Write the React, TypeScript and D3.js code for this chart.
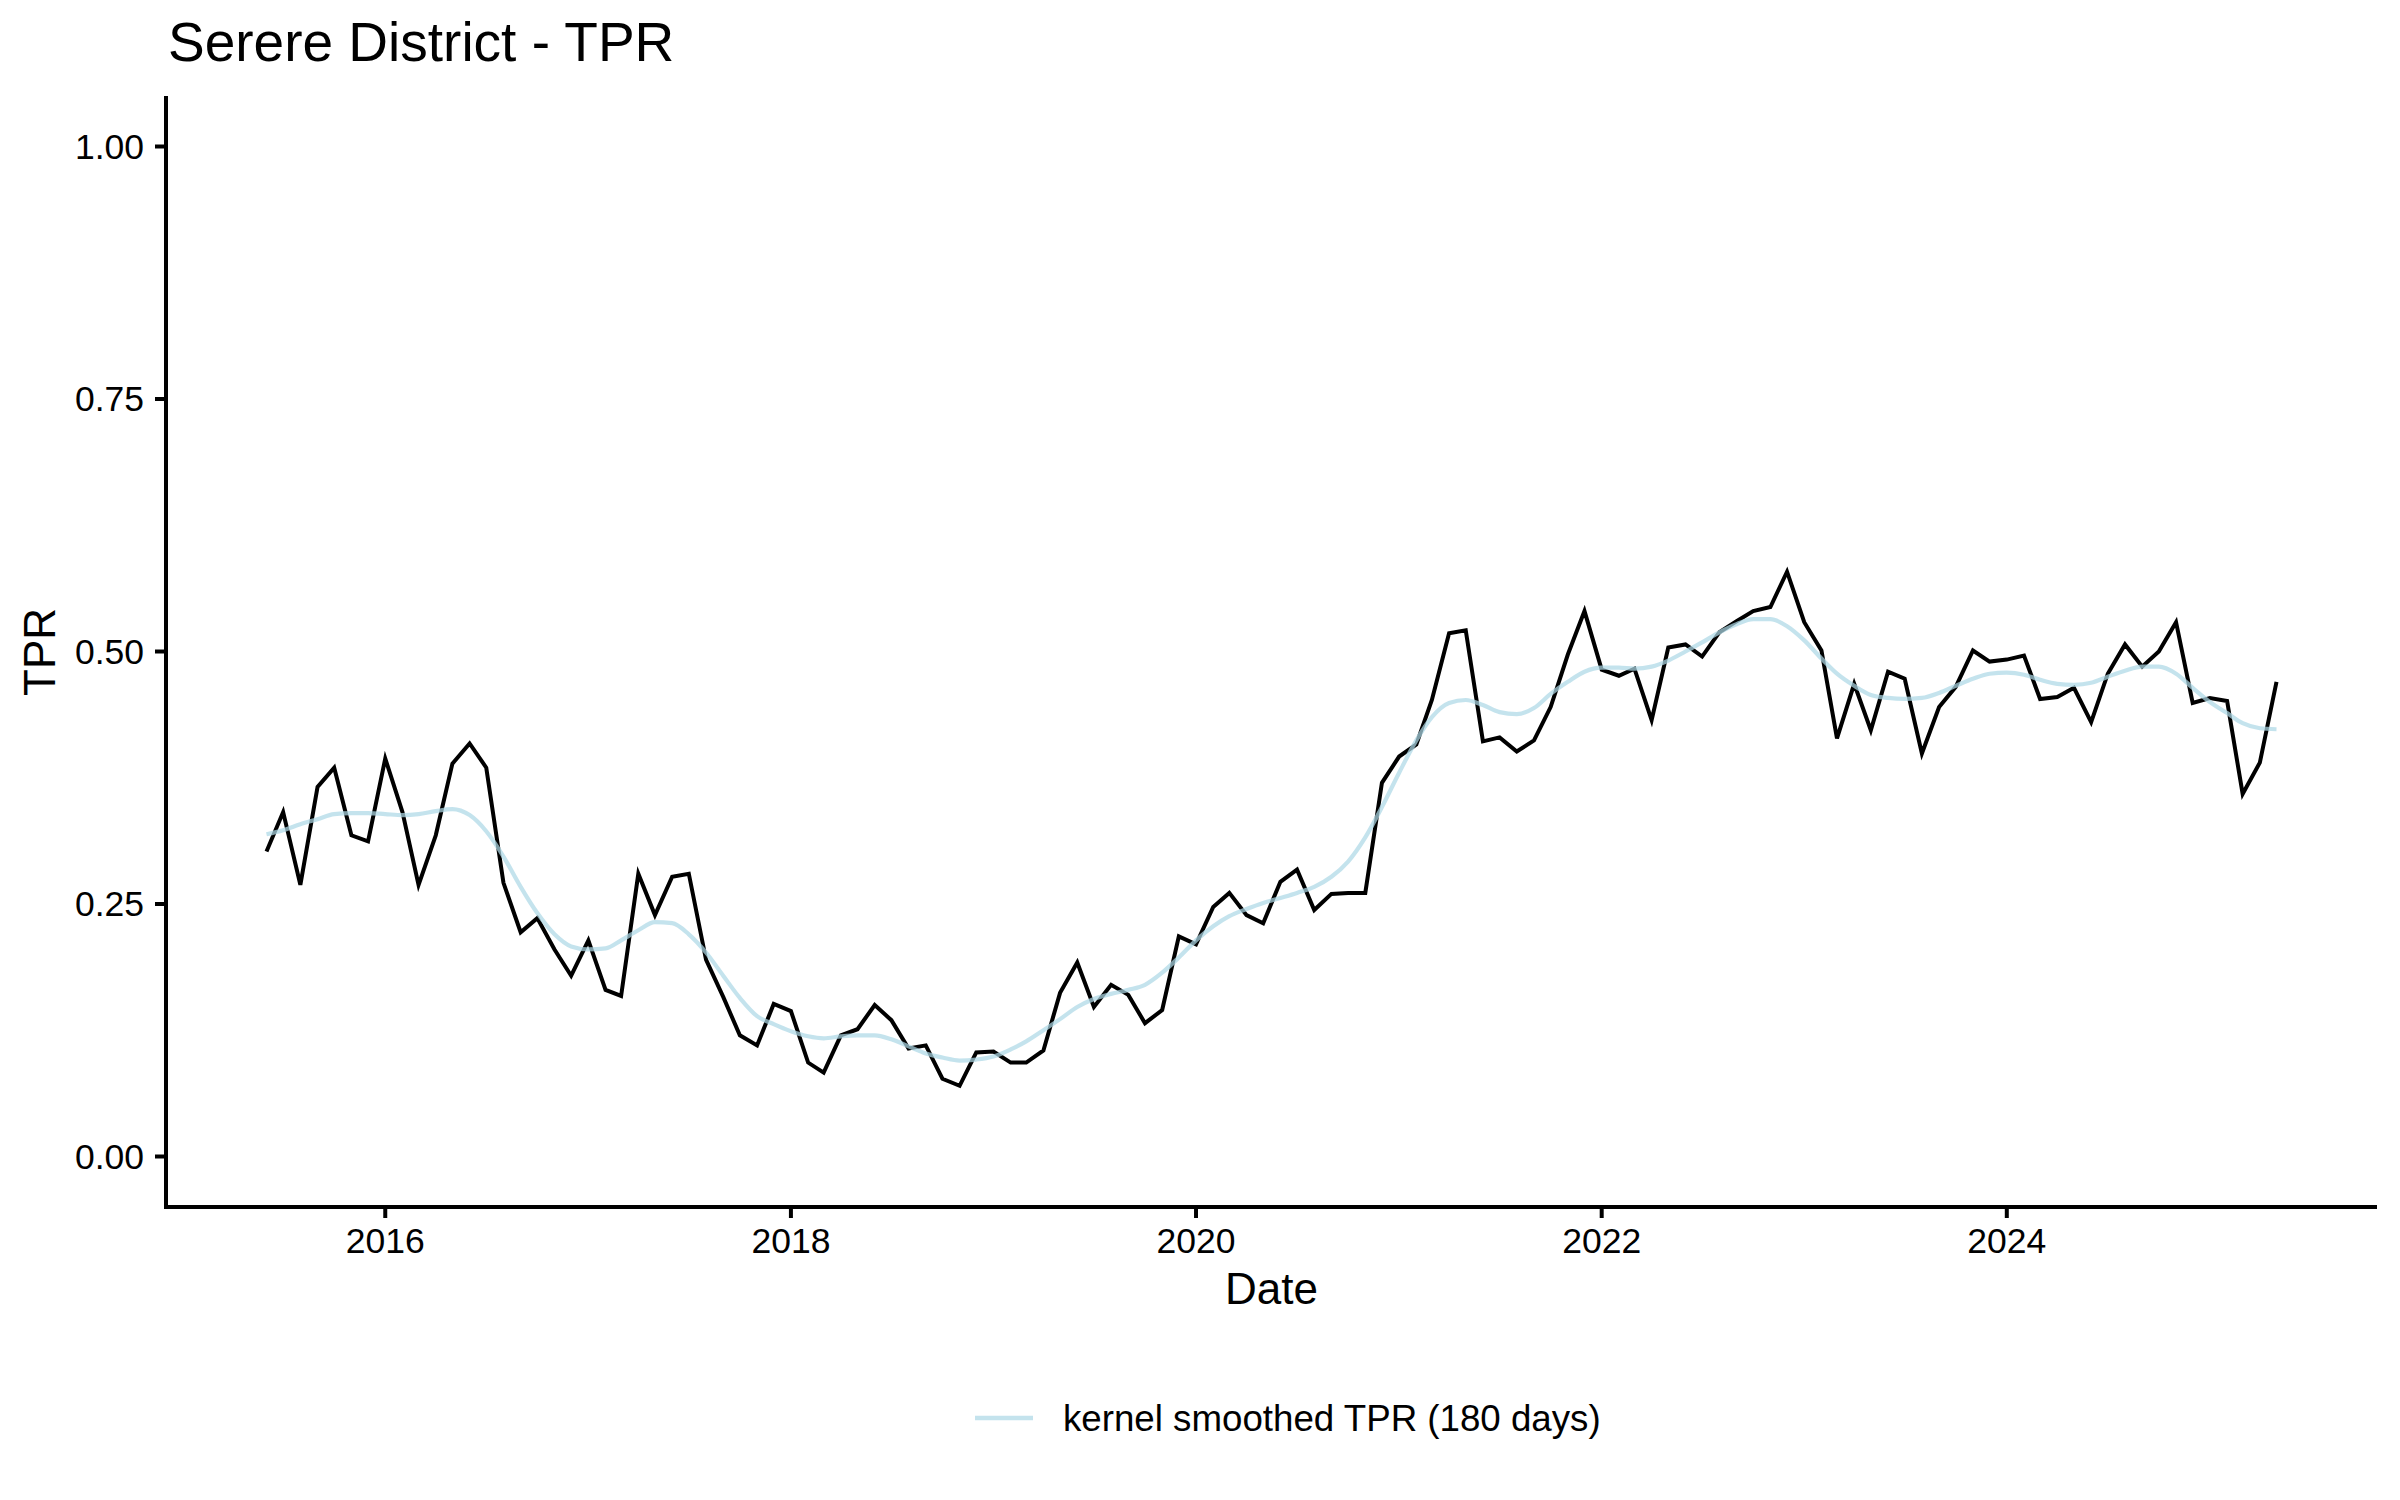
import { scaleTime, scaleLinear, line as d3line, curveMonotoneX, timeMonth, format } from "d3";

// monthly TPR, Jun 2015 .. May 2025
const months = timeMonth.range(new Date(2015, 5, 1), new Date(2025, 5, 1));

const tpr = [
  0.302, 0.341, 0.269, 0.366, 0.385, 0.318, 0.312, 0.394, 0.341, 0.269,
  0.318, 0.389, 0.409, 0.385, 0.271, 0.222, 0.236, 0.205, 0.179, 0.214,
  0.165, 0.159, 0.280, 0.239, 0.277, 0.280, 0.195, 0.158, 0.120, 0.110,
  0.151, 0.144, 0.093, 0.083, 0.120, 0.126, 0.150, 0.135, 0.107, 0.110,
  0.077, 0.070, 0.103, 0.104, 0.093, 0.093, 0.105, 0.162, 0.192, 0.148,
  0.170, 0.160, 0.132, 0.145, 0.218, 0.210, 0.247, 0.261, 0.239, 0.231,
  0.272, 0.284, 0.244, 0.260, 0.261, 0.261, 0.370, 0.396, 0.408, 0.452,
  0.518, 0.521, 0.411, 0.415, 0.401, 0.412, 0.445, 0.497, 0.540, 0.482,
  0.476, 0.483, 0.432, 0.504, 0.507, 0.495, 0.519, 0.530, 0.540, 0.544,
  0.579, 0.529, 0.501, 0.414, 0.468, 0.422, 0.480, 0.473, 0.399, 0.445,
  0.465, 0.501, 0.490, 0.492, 0.496, 0.453, 0.455, 0.464, 0.430, 0.478,
  0.507, 0.485, 0.500, 0.529, 0.449, 0.454, 0.451, 0.359, 0.390, 0.470,
];

// kernel smoothed TPR (180 days)
const smoothed = [
  0.319, 0.323, 0.329, 0.334, 0.339, 0.340, 0.340, 0.339, 0.338, 0.339,
  0.342, 0.344, 0.338, 0.322, 0.297, 0.267, 0.241, 0.220, 0.208, 0.205,
  0.206, 0.214, 0.224, 0.232, 0.231, 0.220, 0.202, 0.179, 0.157, 0.139,
  0.131, 0.124, 0.119, 0.117, 0.119, 0.120, 0.120, 0.116, 0.109, 0.102,
  0.098, 0.095, 0.096, 0.099, 0.106, 0.114, 0.125, 0.136, 0.148, 0.156,
  0.161, 0.165, 0.170, 0.182, 0.197, 0.214, 0.228, 0.238, 0.245, 0.251,
  0.256, 0.261, 0.267, 0.277, 0.292, 0.316, 0.346, 0.380, 0.412, 0.435,
  0.449, 0.452, 0.447, 0.440, 0.438, 0.444, 0.458, 0.470, 0.480, 0.484,
  0.484, 0.483, 0.485, 0.491, 0.500, 0.509, 0.519, 0.527, 0.532, 0.532,
  0.525, 0.511, 0.493, 0.478, 0.466, 0.457, 0.454, 0.453, 0.454, 0.459,
  0.466, 0.473, 0.478, 0.479, 0.477, 0.472, 0.468, 0.467, 0.469, 0.475,
  0.481, 0.485, 0.485, 0.478, 0.464, 0.450, 0.439, 0.429, 0.424, 0.423,
];

const yTicks = [0, 0.25, 0.5, 0.75, 1];
const xTickYears = [2016, 2018, 2020, 2022, 2024];

const title = "Serere District - TPR";
const legendLabel = "kernel smoothed TPR (180 days)";

type Pt = { date: Date; value: number };

const W = 2400;
const H = 1500;
const FONT = "'Liberation Sans', Arial, Helvetica, sans-serif";

export default function App() {
  const left = 166;
  const right = 2377;
  const top = 96;
  const bottom = 1207;

  const t0 = months[0].getTime();
  const t1 = months[months.length - 1].getTime();
  const pad = (t1 - t0) * 0.05;

  const x = scaleTime()
    .domain([new Date(t0 - pad), new Date(t1 + pad)])
    .range([left, right]);

  const y = scaleLinear().domain([-0.05, 1.05]).range([bottom, top]);

  const raw: Pt[] = months.map((d, i) => ({ date: d, value: tpr[i] }));
  const smooth: Pt[] = months.map((d, i) => ({ date: d, value: smoothed[i] }));

  const rawLine = d3line<Pt>()
    .x((d) => x(d.date))
    .y((d) => y(d.value));

  const smoothLine = d3line<Pt>()
    .x((d) => x(d.date))
    .y((d) => y(d.value))
    .curve(curveMonotoneX);

  const fmt = format(".2f");

  return (
    <div style={{ position: "fixed", left: 0, top: 0 }}>
      <svg width={W} height={H} viewBox={`0 0 ${W} ${H}`} style={{ display: "block", background: "#fff" }} fontFamily={FONT}>
        <rect width={W} height={H} fill="#fff" />

        {/* title */}
        <text x={168} y={61} fontSize={55} fill="#000">
          {title}
        </text>

        {/* series */}
        <path d={rawLine(raw) ?? undefined} fill="none" stroke="#000" strokeWidth={4} strokeLinejoin="miter" />
        <path d={smoothLine(smooth) ?? undefined} fill="none" stroke="lightblue" strokeOpacity={0.72} strokeWidth={4.2} />

        {/* y axis */}
        <line x1={left} x2={left} y1={top} y2={bottom + 2} stroke="#000" strokeWidth={4} />
        {yTicks.map((v) => (
          <g key={v} transform={`translate(0,${y(v)})`}>
            <line x1={left - 11} x2={left} stroke="#000" strokeWidth={4} />
            <text x={144} dy="0.35em" textAnchor="end" fontSize={35.5} fill="#000">
              {fmt(v)}
            </text>
          </g>
        ))}

        {/* x axis */}
        <line x1={left - 2} x2={right} y1={bottom} y2={bottom} stroke="#000" strokeWidth={4} />
        {xTickYears.map((yr) => {
          const px = x(new Date(yr, 0, 1));
          return (
            <g key={yr} transform={`translate(${px},0)`}>
              <line y1={bottom} y2={bottom + 11} stroke="#000" strokeWidth={4} />
              <text y={1253} textAnchor="middle" fontSize={35.5} fill="#000">
                {yr}
              </text>
            </g>
          );
        })}

        {/* axis titles */}
        <text x={(left + right) / 2} y={1304} textAnchor="middle" fontSize={44} fill="#000">
          Date
        </text>
        <text transform="translate(55,652) rotate(-90)" textAnchor="middle" fontSize={44} fill="#000">
          TPR
        </text>

        {/* legend */}
        <line x1={975} x2={1033} y1={1418} y2={1418} stroke="lightblue" strokeOpacity={0.72} strokeWidth={4.5} />
        <text x={1063} y={1418} dy="0.35em" fontSize={36.7} fill="#000">
          {legendLabel}
        </text>
      </svg>
    </div>
  );
}
